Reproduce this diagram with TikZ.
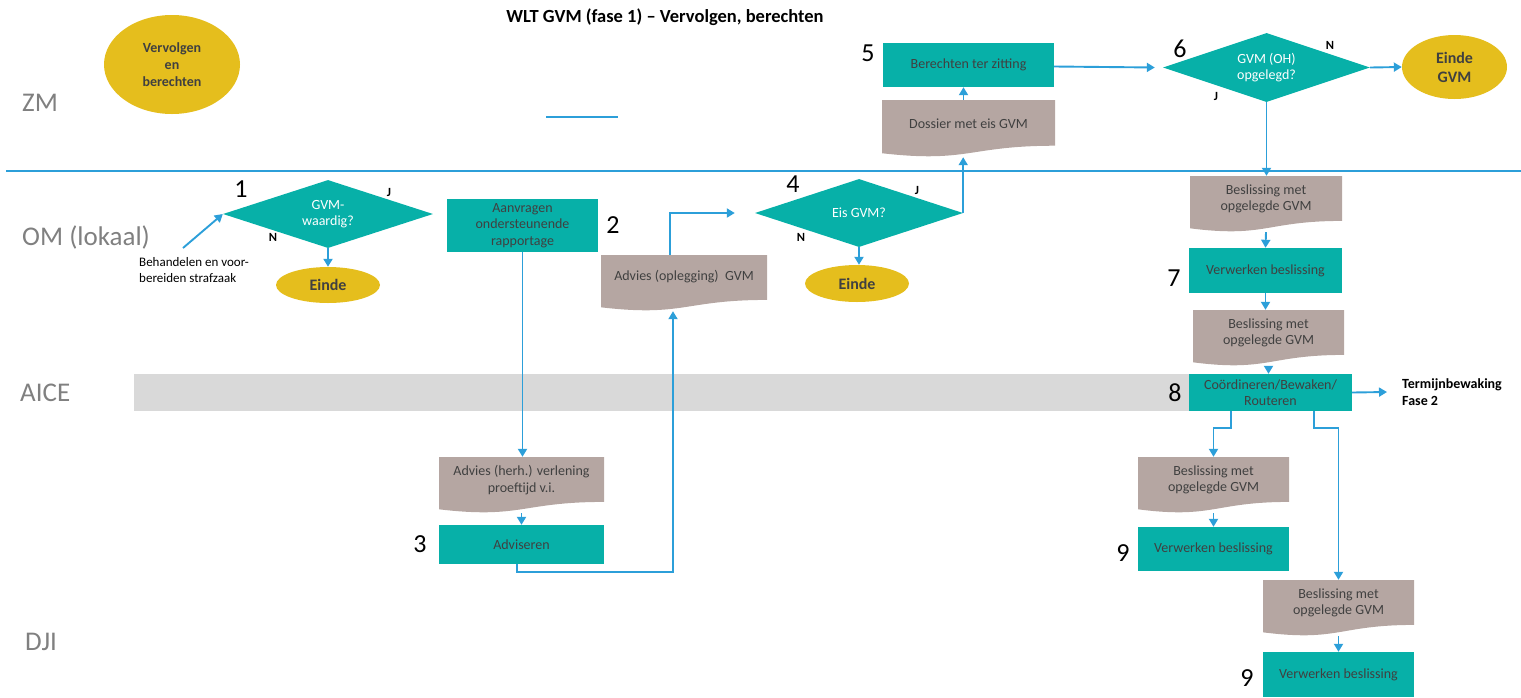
\documentclass[tikz,border=0pt]{standalone}
\usepackage{fontspec}
\setmainfont{Carlito}
\usetikzlibrary{shapes.geometric,arrows.meta,calc}
\definecolor{tealc}{HTML}{07B0A8}
\definecolor{docc}{HTML}{B5A6A2}
\definecolor{goldc}{HTML}{E5BE1D}
\definecolor{bluec}{HTML}{2C9FD9}
\definecolor{txtc}{HTML}{404040}
\definecolor{lanec}{HTML}{808080}
\definecolor{barc}{HTML}{D9D9D9}
\begin{document}
\begin{tikzpicture}[x=1pt,y=-1pt,
  body/.style={font=\fontsize{14}{16.5}\selectfont},
  proc/.style={rectangle, fill=tealc, text=txtc, body, align=center, inner sep=1pt},
  doc/.style={rectangle, inner sep=0pt, path picture={\fill[docc] let \p1=(path picture bounding box.south west), \p2=(path picture bounding box.north east) in (\x1,\y2) -- (\x2,\y2) -- (\x2,{\y1+0.198*(\y2-\y1)}) .. controls ({0.5*(\x1+\x2)},{\y1+0.198*(\y2-\y1)}) and ({0.5*(\x1+\x2)},{\y1-0.107*(\y2-\y1)}) .. (\x1,{\y1+0.066*(\y2-\y1)}) -- cycle;}},
  doctext/.style={text=txtc, body, align=center, inner sep=0pt},
  dec/.style={diamond, aspect=3, fill=tealc, text=white, body, align=center, inner sep=0pt},
  term/.style={ellipse, fill=goldc, text=txtc, align=center, inner sep=0pt, font=\fontsize{16}{19}\bfseries\selectfont},
  num/.style={font=\fontsize{26}{28}\selectfont, inner sep=0pt},
  yn/.style={font=\fontsize{12.5}{14}\bfseries\selectfont, inner sep=0pt},
  lane/.style={font=\fontsize{27}{30}\selectfont, text=lanec, anchor=west, inner sep=0pt},
  arr/.style={draw=bluec, line width=1.9pt, -{Triangle[length=8pt,width=9pt]}},
  ln/.style={draw=bluec, line width=1.5pt}
]
\useasboundingbox (0,0) rectangle (1521,697);

% title
\node[font=\fontsize{18.5}{22}\bfseries\selectfont] (title) at (665,17) {WLT GVM (fase 1) – Vervolgen, berechten};

% lanes
\node[lane] (lzm) at (22,103) {ZM};
\node[lane] (lom) at (22,237) {OM (lokaal)};
\node[lane] (lai) at (20,393) {AICE};
\node[lane] (ldj) at (25,642) {DJI};
\coordinate (sepL) at (6,171);
\coordinate (sepR) at (1521,171);
\draw[ln] (sepL) -- (sepR);
\coordinate (shL) at (546,117);
\coordinate (shR) at (618,117);
\draw[ln] (shL) -- (shR);
\fill[barc] (134,374) rectangle (1189,411);

% ovals
\node[term, minimum width=136pt, minimum height=99pt, font=\fontsize{14}{17}\bfseries\selectfont] (vb) at (172,64.5) {Vervolgen\\en\\berechten};
\node[term, minimum width=104pt, minimum height=36pt] (e1) at (328,285) {Einde};
\node[term, minimum width=104pt, minimum height=37pt] (e2) at (857,283.5) {Einde};
\node[term, minimum width=105pt, minimum height=64pt] (eg) at (1454.5,67) {Einde\\GVM};

% diamonds
\node[dec, minimum width=210pt, minimum height=68pt] (d1) at (328,214) {GVM-\\waardig?};
\node[dec, minimum width=208pt, minimum height=68pt] (d4) at (859,213) {Eis GVM?};
\node[dec, minimum width=207pt, minimum height=69pt] (d6) at (1266.5,67.5) {GVM (OH)\\opgelegd?};

% process boxes
\node[proc, minimum width=151pt, minimum height=53pt] (b2) at (522.5,225.5) {Aanvragen\\ondersteunende\\rapportage};
\node[proc, minimum width=165pt, minimum height=39pt] (b3) at (521.5,544.5) {Adviseren};
\node[proc, minimum width=171pt, minimum height=44pt] (b5) at (968.5,65) {Berechten ter zitting};
\node[proc, minimum width=153pt, minimum height=45pt] (b7) at (1265.5,270.5) {Verwerken beslissing};
\node[proc, minimum width=163pt, minimum height=37pt] (b8) at (1270.5,392.5) {Coördineren/Bewaken/\\Routeren};
\node[proc, minimum width=151pt, minimum height=44pt] (b9a) at (1213.5,549) {Verwerken beslissing};
\node[proc, minimum width=151pt, minimum height=45pt] (b9b) at (1338.5,674.5) {Verwerken beslissing};

% documents
\node[doc, minimum width=165pt, minimum height=56pt] (dv) at (521.5,485) {};
\node[doctext] (dvt) at (521.5,480) {Advies (herh.) verlening\\proeftijd v.i.};
\node[doc, minimum width=166pt, minimum height=56pt] (da) at (684,283) {};
\node[doctext] (dat) at (684,277) {Advies (oplegging)~ GVM};
\node[doc, minimum width=173pt, minimum height=57pt] (dos) at (968.5,128.5) {};
\node[doctext] (dost) at (968.5,124) {Dossier met eis GVM};
\node[doc, minimum width=152pt, minimum height=56pt] (dc1) at (1266,204) {};
\node[doctext] (dc1t) at (1266,199) {Beslissing met\\opgelegde GVM};
\node[doc, minimum width=151pt, minimum height=56pt] (dc2) at (1268.5,338) {};
\node[doctext] (dc2t) at (1268.5,333) {Beslissing met\\opgelegde GVM};
\node[doc, minimum width=151pt, minimum height=56pt] (dc4) at (1213.5,485) {};
\node[doctext] (dc4t) at (1213.5,480) {Beslissing met\\opgelegde GVM};
\node[doc, minimum width=151pt, minimum height=56pt] (dc5) at (1338.5,608) {};
\node[doctext] (dc5t) at (1338.5,603) {Beslissing met\\opgelegde GVM};

% numbers
\node[num] (n1) at (241,189) {1};
\node[num] (n2) at (613,225) {2};
\node[num] (n3) at (420,544) {3};
\node[num] (n4) at (793,184) {4};
\node[num] (n5) at (868,53) {5};
\node[num] (n6) at (1180,49) {6};
\node[num] (n7) at (1174,278) {7};
\node[num] (n8) at (1175,393) {8};
\node[num] (n9a) at (1123,553) {9};
\node[num] (n9b) at (1247,678) {9};

% J / N
\node[yn] (j1) at (389,192) {J};
\node[yn] (m1) at (273,237) {N};
\node[yn] (j4) at (917,190) {J};
\node[yn] (m4) at (801,237) {N};
\node[yn] (m6) at (1330,45) {N};
\node[yn] (j6) at (1216,96) {J};

% start text
\node[font=\fontsize{13}{16}\selectfont, align=left, anchor=west, inner sep=0pt] (st) at (139,270) {Behandelen en voor-\\bereiden strafzaak};
\coordinate (stA) at (183,248);

% Termijnbewaking
\node[font=\fontsize{14}{17}\bfseries\selectfont, align=left, anchor=west, inner sep=0pt] (tb) at (1402,392) {Termijnbewaking\\Fase 2};

% connectors
\draw[arr] (stA) -- (d1.west);
\draw[arr] (d1.south) -- (e1.north);
\draw[arr] (b2.south) -- (b2.south |- dv.north);
\draw[arr] (dv.south) -- (b3.north);
\draw[arr] ([xshift=-4.5pt]b3.south) -- ++(0,8) -| ([xshift=-11pt]da.south);
\draw[arr] ([xshift=-14pt]da.north) |- ([xshift=-20pt]d4.west);
\draw[arr] (d4.south) -- (d4.south |- e2.north);
\draw[arr] (d4.east) -- (d4.east |- dos.south);
\draw[arr] ([xshift=-5pt]dos.north) -- ([xshift=-5pt]b5.south);
\draw[arr] ([yshift=-1.5pt]b5.east) -- ([xshift=-8pt]d6.west);
\draw[arr] (d6.east) -- (eg.west);
\draw[arr] (d6.south) -- (d6.south |- dc1.north);
\draw[arr] (dc1.south) -- (b7.north);
\draw[arr] (b7.south) -- (b7.south |- dc2.north);
\draw[arr] (dc2.south) -- (dc2.south |- b8.north);
\draw[arr] (b8.east) -- ([xshift=-15pt]tb.west);
\draw[arr] ([xshift=-39.5pt]b8.south) -- ++(0,17) -| (dc4.north);
\draw[arr] (dc4.south) -- (b9a.north);
\draw[arr] ([xshift=43.5pt]b8.south) -- ++(0,17) -| (dc5.north);
\draw[arr] (dc5.south) -- (b9b.north);
\end{tikzpicture}
\end{document}
